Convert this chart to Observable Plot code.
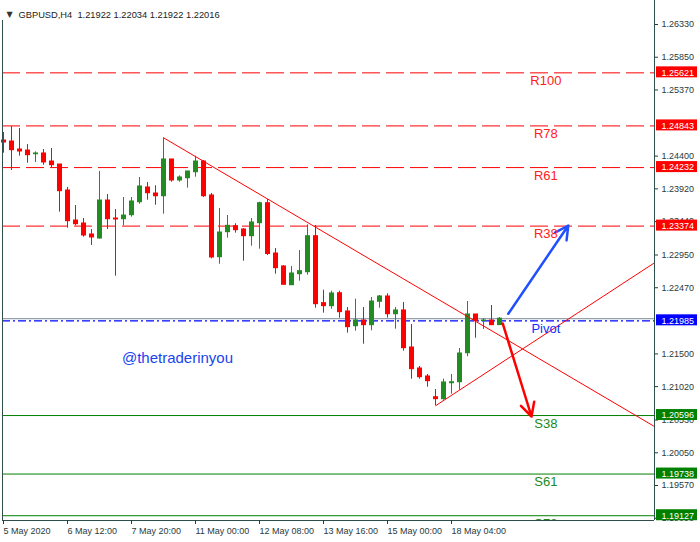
<!DOCTYPE html>
<html><head><meta charset="utf-8">
<script src="https://cdn.jsdelivr.net/npm/d3@7"></script>
<script src="https://cdn.jsdelivr.net/npm/@observablehq/plot@0.6"></script>
<style>body{margin:0;background:#fff} #chart svg{display:block}</style>
</head><body><div id="chart"></div>
<script>
// ---- data ----
const title = "GBPUSD,H4  1.21922 1.22034 1.21922 1.22016";
const open  = [1.24629,1.24614,1.24497,1.24482,1.24428,1.24439,1.24321,1.24277,1.23896,1.23456,1.23412,1.23251,1.23192,1.23749,1.23485,1.23475,1.23534,1.23724,1.23940,1.23852,1.23812,1.24351,1.24043,1.24076,1.24164,1.24321,1.23823,1.22918,1.23285,1.23373,1.23324,1.23226,1.23417,1.23710,1.22972,1.22782,1.22507,1.22669,1.22698,1.23226,1.22244,1.22200,1.22390,1.22122,1.21906,1.21990,1.21921,1.22264,1.22342,1.22082,1.22137,1.21594,1.21286,1.21169,1.20865,1.20836,1.21070,1.21085,1.21510,1.22078,1.21980,1.21990,1.21922];
const high  = [1.24746,1.24834,1.24805,1.24570,1.24463,1.24497,1.24512,1.24277,1.23940,1.23676,1.23485,1.23324,1.24175,1.23837,1.23617,1.23793,1.23793,1.24087,1.24013,1.23965,1.24669,1.24351,1.24111,1.24175,1.24399,1.24336,1.23852,1.23632,1.23529,1.23408,1.23339,1.23485,1.23724,1.23764,1.23046,1.22796,1.22782,1.23016,1.23393,1.23383,1.22434,1.22419,1.22419,1.22180,1.22302,1.22180,1.22327,1.22356,1.22381,1.22180,1.22254,1.21931,1.21315,1.21198,1.20978,1.21129,1.21198,1.21579,1.22268,1.22078,1.22019,1.22210,1.22034];
const low   = [1.24443,1.24189,1.24399,1.24296,1.24307,1.24267,1.24229,1.23578,1.23343,1.23378,1.23211,1.23090,1.23182,1.23324,1.22639,1.23378,1.23504,1.23695,1.23754,1.23680,1.23549,1.24018,1.24018,1.23930,1.24091,1.23793,1.22894,1.22815,1.23197,1.23270,1.22859,1.23079,1.23035,1.22943,1.22669,1.22513,1.22507,1.22566,1.22654,1.22170,1.22097,1.22156,1.22024,1.21804,1.21833,1.21642,1.21839,1.22170,1.22024,1.21862,1.21540,1.21129,1.21129,1.21012,1.20739,1.20821,1.20909,1.20968,1.21458,1.21730,1.21858,1.21917,1.21922];
const close = [1.24600,1.24487,1.24468,1.24414,1.24439,1.24307,1.24267,1.23886,1.23446,1.23402,1.23236,1.23207,1.23749,1.23475,1.23471,1.23529,1.23735,1.23955,1.23856,1.23812,1.24351,1.24043,1.24087,1.24175,1.24321,1.23812,1.22914,1.23280,1.23378,1.23314,1.23226,1.23427,1.23710,1.22965,1.22757,1.22513,1.22679,1.22713,1.23226,1.22229,1.22200,1.22386,1.22112,1.21892,1.21990,1.21921,1.22268,1.22342,1.22082,1.22137,1.21584,1.21276,1.21158,1.21100,1.20836,1.21081,1.21085,1.21506,1.22078,1.21980,1.21990,1.21921,1.22016];

const xTickIndex  = [0, 8, 16, 24, 32, 40, 48, 56];
const xTickLabels = ["5 May 2020","6 May 12:00","7 May 20:00","11 May 00:00","12 May 08:00","13 May 16:00","15 May 00:00","18 May 04:00"];
const yTickValues = [1.26330,1.25850,1.25370,1.24400,1.23920,1.23440,1.22950,1.22470,1.21500,1.21020,1.20530,1.20050,1.19570,1.19090];

const levelNames  = ["R100","R78","R61","R38","Pivot","S38","S61","S78"];
const levelPrices = [1.25621,1.24843,1.24232,1.23374,1.21985,1.20596,1.19738,1.19127];
const levelKinds  = ["R","R","R","R","P","S","S","S"];
const bidPrice = 1.22016;

// trend lines: [bar index, price] start and end
const trendStartX = [20, 54];
const trendStartY = [1.24669, 1.20739];
const trendEndX   = [81.3, 81.3];
const trendEndY   = [1.20440, 1.22830];

// arrows
const arrowStartX = [63.1, 62.4];
const arrowStartY = [1.22088, 1.21946];
const arrowEndX   = [70.6, 66.0];
const arrowEndY   = [1.23383, 1.20582];
const arrowKinds  = ["up", "down"];

const watermark = "@thetraderinyou";
const watermarkBar = 14.8, watermarkPrice = 1.21433;
const levelLabelBar = 67.8;
const titleBandPrice = 1.26389; // price under the title strip (left border starts below it)

// ---- build tables ----
const candles = open.map((o, i) => ({i, open: o, high: high[i], low: low[i], close: close[i], up: close[i] >= o}));
const levels = levelNames.map((n, i) => ({name: n, price: levelPrices[i], kind: levelKinds[i]}));
const trends = trendStartX.map((x, i) => ({x1: x, y1: trendStartY[i], x2: trendEndX[i], y2: trendEndY[i]}));
const arrows = arrowStartX.map((x, i) => ({x1: x, y1: arrowStartY[i], x2: arrowEndX[i], y2: arrowEndY[i], kind: arrowKinds[i]}));

const RED = "#ff0000", GREEN = "#008000", BLUE = "#0000ff", CGREEN = "#228b22", FRAME = "#2f4f4f";
const xDomain = [-0.125, 81.375];
const yDomain = [1.19057, 1.26682];
const boxColor = k => k === "R" ? RED : k === "P" ? BLUE : GREEN;
const textColor = k => k === "R" ? "#ff2020" : k === "P" ? "#1030ff" : "#1a8a1a";

const chart = Plot.plot({
  width: 700, height: 542,
  marginLeft: 2, marginRight: 46, marginTop: 0, marginBottom: 22,
  style: {fontFamily: "'Liberation Sans', Arial, sans-serif", fontSize: "9px", color: "#2a3a3a", background: "#fff"},
  x: {domain: xDomain},
  y: {domain: yDomain},
  marks: [
    // level lines
    Plot.ruleY(levels.filter(d => d.kind === "R"), {y: "price", stroke: RED, strokeWidth: 1, strokeDasharray: "18,6"}),
    Plot.ruleY(levels.filter(d => d.kind === "S"), {y: "price", stroke: GREEN, strokeWidth: 1}),
    Plot.ruleY([bidPrice], {stroke: "#7a8a9a", strokeWidth: 1}),
    Plot.ruleY(levels.filter(d => d.kind === "P"), {y: "price", stroke: BLUE, strokeWidth: 1.3, strokeDasharray: "8,3,2,3"}),
    // candles
    Plot.ruleX(candles, {x: "i", y1: "low", y2: "high", stroke: d => d.up ? CGREEN : RED, strokeWidth: 1}),
    Plot.rect(candles, {x1: d => d.i - 0.25, x2: d => d.i + 0.375, y1: "open", y2: "close",
      fill: d => d.up ? CGREEN : RED, insetTop: -0.5, insetBottom: -0.5}),
    // trend lines
    Plot.link(trends, {x1: "x1", y1: "y1", x2: "x2", y2: "y2", stroke: RED, strokeWidth: 1, clip: true}),
    // arrows
    Plot.arrow(arrows, {x1: "x1", y1: "y1", x2: "x2", y2: "y2", stroke: d => d.kind === "up" ? "#1f4fff" : RED,
      strokeWidth: 2.5, headLength: 9, headAngle: 55}),
    // level labels
    Plot.text(levels, {x: levelLabelBar, y: "price", text: "name", dy: 8, fill: d => textColor(d.kind),
      fontSize: 13, textAnchor: "middle", clip: true}),
    // watermark
    Plot.text([watermark], {x: watermarkBar, y: watermarkPrice, text: d => d, fill: "#1a44ee", fontSize: 15, textAnchor: "start"}),
    // frame
    Plot.ruleX([xDomain[0]], {y1: yDomain[0], y2: titleBandPrice, stroke: FRAME, strokeWidth: 1}),
    Plot.ruleX([xDomain[1]], {stroke: FRAME, strokeWidth: 1}),
    Plot.ruleY([yDomain[0]], {stroke: FRAME, strokeWidth: 1}),
    // axes
    Plot.axisY({anchor: "right", ticks: yTickValues, tickFormat: d => d.toFixed(5), tickSize: 3, tickPadding: 4, label: null, fontSize: 9}),
    Plot.axisX({anchor: "bottom", ticks: xTickIndex, tickFormat: d => xTickLabels[xTickIndex.indexOf(d)], tickSize: 4, tickPadding: 3,
      textAnchor: "start", label: null, fontSize: 9}),
    // price label boxes
    Plot.rect(levels, {x1: xDomain[1], x2: xDomain[1], y1: "price", y2: "price", fill: d => boxColor(d.kind),
      insetLeft: 2, insetRight: -43, insetTop: -6, insetBottom: -5}),
    Plot.text(levels, {x: xDomain[1], y: "price", text: d => d.price.toFixed(5), fill: "#fff", textAnchor: "start", dx: 7, fontSize: 9}),
    // title
    Plot.text(["\u25BC"], {frameAnchor: "top-left", dx: 4, dy: 11, text: d => d, fill: "#333", fontSize: 8, fontFamily: "DejaVu Sans", textAnchor: "start"}),
    Plot.text([title], {frameAnchor: "top-left", dx: 16, dy: 11, text: d => d, fill: "#222", fontSize: 9.3, textAnchor: "start"})
  ]
});
document.getElementById("chart").appendChild(chart);
</script>
</body></html>
